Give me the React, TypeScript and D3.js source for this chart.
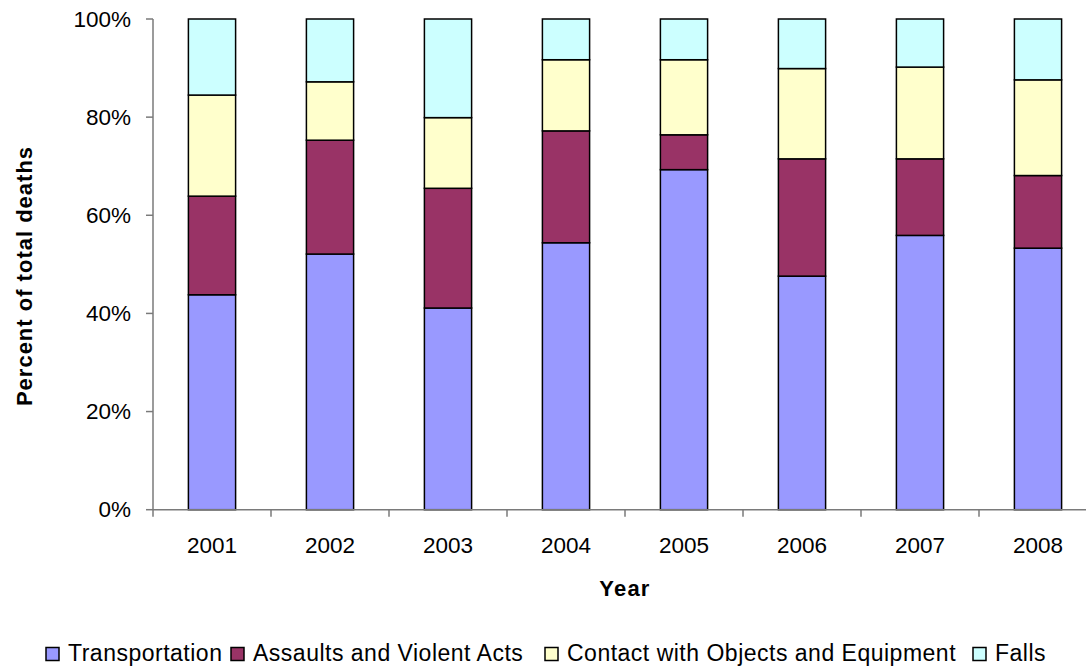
import React from "react";
import * as d3 from "d3";

const years = ["2001", "2002", "2003", "2004", "2005", "2006", "2007", "2008"];
const seriesNames = [
  "Transportation",
  "Assaults and Violent Acts",
  "Contact with Objects and Equipment",
  "Falls",
];
const transportation = [43.8, 52.1, 41.1, 54.4, 69.3, 47.6, 55.9, 53.3];
const assaults = [20.1, 23.2, 24.4, 22.8, 7.1, 23.9, 15.6, 14.8];
const contact = [20.6, 11.9, 14.4, 14.5, 15.3, 18.4, 18.7, 19.5];
const falls = [15.5, 12.8, 20.1, 8.3, 8.3, 10.1, 9.8, 12.4];
const yTicks = [0, 20, 40, 60, 80, 100];
const colors = ["#9999FF", "#993366", "#FFFFCC", "#CCFFFF"];

const W = 1086;
const H = 668;
const FONT = "'Liberation Sans', Arial, sans-serif";
// left edge of each legend swatch
const legendX = [46, 231, 545, 973];

export default function App() {
  const x = d3
    .scaleBand<string>()
    .domain(years)
    .range([153, 1097])
    .paddingInner(0.6)
    .paddingOuter(0.3);
  const y = d3.scaleLinear().domain([0, 100]).range([509.7, 19]);

  const rows = years.map((yr, i) => ({
    year: yr,
    s0: transportation[i],
    s1: assaults[i],
    s2: contact[i],
    s3: falls[i],
  }));
  const stacked = d3.stack<any>().keys(["s0", "s1", "s2", "s3"])(rows);

  const step = x.step();
  const boundaries = d3.range(years.length + 1).map((i) => 153 + i * step);

  return (
    <svg
      width={W}
      height={H}
      style={{ position: "absolute", left: 0, top: 0, background: "#fff" }}
    >
      {/* stacked bars */}
      {stacked.map((layer, li) => (
        <g key={li}>
          {layer.map((d, i) => (
            <rect
              key={i}
              x={x(years[i])}
              y={y(d[1])}
              width={x.bandwidth()}
              height={y(d[0]) - y(d[1])}
              fill={colors[li]}
              stroke="#000"
              strokeWidth={1.5}
            />
          ))}
        </g>
      ))}

      {/* y axis */}
      <line x1={153} x2={153} y1={19} y2={y(0)} stroke="#7a7a7a" strokeWidth={1.5} />
      {yTicks.map((t) => (
        <g key={t}>
          <line x1={146} x2={153} y1={y(t)} y2={y(t)} stroke="#7a7a7a" strokeWidth={1.5} />
          <text
            x={131}
            y={y(t)}
            textAnchor="end"
            dominantBaseline="central"
            fontFamily={FONT}
            fontSize={22.5}
            fill="#000"
          >
            {t}%
          </text>
        </g>
      ))}

      {/* x axis */}
      <line x1={153} x2={1097} y1={y(0)} y2={y(0)} stroke="#7a7a7a" strokeWidth={1.5} />
      {boundaries.map((b, i) => (
        <line key={i} x1={b} x2={b} y1={y(0)} y2={y(0) + 7} stroke="#7a7a7a" strokeWidth={1.5} />
      ))}
      {years.map((yr) => (
        <text
          key={yr}
          x={(x(yr) as number) + x.bandwidth() / 2}
          y={553}
          textAnchor="middle"
          fontFamily={FONT}
          fontSize={22.5}
          fill="#000"
        >
          {yr}
        </text>
      ))}

      {/* axis titles */}
      <text
        x={625}
        y={596}
        textAnchor="middle"
        fontFamily={FONT}
        fontSize={22}
        fontWeight="bold"
        letterSpacing={1.2}
        fill="#000"
      >
        Year
      </text>
      <text
        transform="translate(32,276) rotate(-90)"
        textAnchor="middle"
        fontFamily={FONT}
        fontSize={22}
        fontWeight="bold"
        letterSpacing={1}
        fill="#000"
      >
        Percent of total deaths
      </text>

      {/* legend */}
      {seriesNames.map((name, i) => (
        <g key={name}>
          <rect
            x={legendX[i]}
            y={647.5}
            width={13}
            height={13}
            fill={colors[i]}
            stroke="#000"
            strokeWidth={1.5}
          />
          <text
            x={legendX[i] + 22}
            y={661}
            fontFamily={FONT}
            fontSize={23}
            letterSpacing={0.5}
            fill="#000"
          >
            {name}
          </text>
        </g>
      ))}
    </svg>
  );
}
